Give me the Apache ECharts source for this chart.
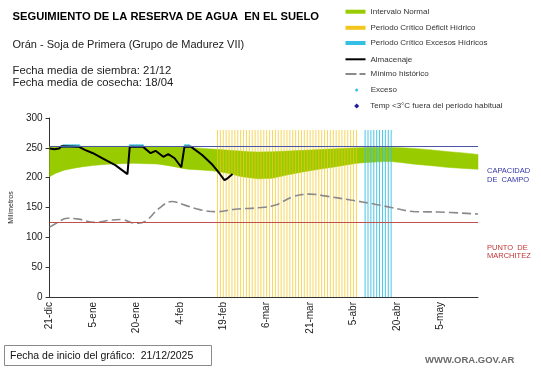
<!DOCTYPE html>
<html><head><meta charset="utf-8">
<script src="https://cdn.jsdelivr.net/npm/echarts@6/dist/echarts.min.js"></script>
<style>html,body{margin:0;padding:0;background:#fff}#c{width:541px;height:368px}</style>
</head><body><div id="c"></div>
<script>
// x positions are days since 21-dic
const tickLabels = ['21-dic','5-ene','20-ene','4-feb','19-feb','6-mar','21-mar','5-abr','20-abr','5-may'];
const bandDays  = [0,2,5,8,11,15,20,25,29,33,37,40,43,46,48,52,56,59,62,66,69,72,77,82,88,93,99,106,110,114,118,122,126,132,138,143,148];
const bandLower = [201.5,207,212.5,215.5,218,220.5,222.5,223.5,224,223.5,223,221,218.5,215.5,214,213,211.5,209.5,207,202,200,198,199,204.5,210,214,218.5,224,225.5,226.5,227,225,222.5,220,217,215.5,214];
const bandUpper = [252.5,252.5,252.5,252.5,252.5,252.5,252.5,252.5,252.5,252.5,252.5,252.5,252,251.5,251,249.5,248,247,246,244.5,243.5,243,243.5,244.5,246,247,248.5,250,250.5,250.5,250.5,250,249,246.5,243.5,241.5,239];
const almDays   = [0,1.7,3.3,4.1,10,10.5,12.2,15,18.3,22.7,26.9,27.7,32.2,32.7,34.9,36.6,39.3,41,43.2,45.5,46.6,48.8,49.3,52.7,56,58.7,60.4,61.5,63.2];
const almValues = [249,247.5,249,252.5,252,251,246.5,241,232.5,221,206,252,252,251,241,245,235,239.5,232.5,217.5,252,252,251,238,223,207,196,199,206];
const minDays   = [0,2.3,6.2,10,15.6,21.2,25,27.8,30.6,33.4,37.8,42.2,46.7,52.2,57.8,64,73,78,84,90,95,104,112,117.5,126.5,134,148];
const minValues = [117,123.5,132,130.5,125,129,130,125.5,123.5,128,148.5,160,154,146,143,147,150,154,168,172.5,169.5,162.5,156,150.5,143,142.5,139];
const deficitDays = [58,59,60,61,62,63,64,65,66,67,68,69,70,71,72,73,74,75,76,77,78,79,80,81,82,83,84,85,86,87,88,89,90,91,92,93,94,95,96,97,98,99,100,101,102,103,104,105,106];
const excessPeriodDays = [109,110,111,112,113,114,115,116,117,118];
const criticalTop = 280;
const excesoDays = [5,6,7,8,9,10,28,29,30,31,32,47,48];
const excesoValue = 253;
const tempDays = [];
const capacidadCampo = 253;
const puntoMarchitez = 125;

const GREEN = '#99cc00', YELLOW = '#f2c61c', CYAN = '#33c0e4';
const FONT = 'Liberation Sans, Arial, sans-serif';

const chart = echarts.init(document.getElementById('c'), null, {renderer: 'canvas'});

const legendSpec = [
  {name: 'Intervalo Normal', icon: 'rect', w: 20, h: 4, cy: 11.7, left: 345.5, pad: 0},
  {name: 'Periodo Crítico Déficit Hídrico', icon: 'rect', w: 20, h: 4, cy: 27.8, left: 345.5, pad: 0},
  {name: 'Periodo Crítico Excesos Hídricos', icon: 'rect', w: 20, h: 4, cy: 43, left: 345.5, pad: 0},
  {name: 'Almacenaje', icon: 'rect', w: 20, h: 2, cy: 59.3, left: 345.5, pad: 0},
  {name: 'Mínimo histórico', icon: 'path://M0,0h11v2h-11z M14,0h6v2h-6z', w: 20, h: 2, cy: 74, left: 345.5, pad: 0},
  {name: 'Exceso', icon: 'circle', w: 3, h: 3, cy: 90, left: 355.2, pad: 7.5},
  {name: 'Temp <3°C fuera del periodo habitual', icon: 'diamond', w: 5, h: 5, cy: 106, left: 354.2, pad: 6}
];

function bandRender(params, api) {
  if (params.dataIndex !== 0) return null;
  const pts = [];
  for (let i = 0; i < bandDays.length; i++) pts.push(api.coord([bandDays[i], bandUpper[i]]));
  for (let i = bandDays.length - 1; i >= 0; i--) pts.push(api.coord([bandDays[i], bandLower[i]]));
  return {type: 'polygon', shape: {points: pts, smooth: 0}, style: {fill: GREEN, stroke: GREEN, lineWidth: 0.5}};
}

function txt(text, x, y, font, fill) {
  return {type: 'text', x: x, y: y, silent: true,
    style: {text: text, font: font, fill: fill, verticalAlign: 'top', align: 'left'}};
}

const option = {
  animation: false,
  grid: {left: 33, right: 63, top: 118, bottom: 71, containLabel: false},
  legend: legendSpec.map(s => ({
    left: s.left, top: s.cy - 5, padding: 0, selectedMode: false,
    itemWidth: s.w, itemHeight: s.h,
    data: [{name: s.name, icon: s.icon, itemStyle: {opacity: 1}}],
    textStyle: {fontSize: 8, color: '#333', lineHeight: 10, fontFamily: FONT, padding: [0, 0, 0, s.pad]}
  })),
  xAxis: {
    type: 'value', min: 0, max: 148, interval: 15,
    splitLine: {show: false},
    axisLine: {lineStyle: {color: '#333', width: 1}},
    axisTick: {show: false},
    axisLabel: {
      rotate: 90, fontSize: 10, color: '#222', margin: 5, fontFamily: FONT,
      showMaxLabel: false,
      formatter: v => (v % 15 === 0 && tickLabels[v / 15] !== undefined) ? tickLabels[v / 15] : ''
    }
  },
  yAxis: {
    type: 'value', min: 0, max: 300, interval: 50,
    name: 'Milímetros', nameLocation: 'middle', nameRotate: 90, nameGap: 25,
    nameTextStyle: {fontSize: 7, color: '#222', fontFamily: FONT},
    splitLine: {show: false},
    axisLine: {show: true, lineStyle: {color: '#333', width: 1}},
    axisTick: {show: true, length: 4, lineStyle: {color: '#333'}},
    axisLabel: {fontSize: 10, color: '#222', margin: 7, fontFamily: FONT}
  },
  series: [
    {type: 'custom', name: 'Intervalo Normal', coordinateSystem: 'cartesian2d',
     itemStyle: {color: GREEN}, renderItem: bandRender, silent: true,
     encode: {x: 0, y: [1, 2]},
     data: bandDays.map((d, i) => [d, bandLower[i], bandUpper[i]])},
    {type: 'bar', name: 'Periodo Crítico Déficit Hídrico', barWidth: 1, barGap: '-100%',
     itemStyle: {color: YELLOW, opacity: 0.72}, data: deficitDays.map(d => [d, criticalTop])},
    {type: 'bar', name: 'Periodo Crítico Excesos Hídricos', barWidth: 1, barGap: '-100%',
     itemStyle: {color: CYAN, opacity: 0.9}, data: excessPeriodDays.map(d => [d, criticalTop])},
    {type: 'line', name: 'limits', data: [], symbol: 'none',
     markLine: {symbol: 'none', silent: true, label: {show: false}, animation: false,
       data: [
         {yAxis: capacidadCampo, lineStyle: {color: '#4a55a8', width: 1, type: 'solid'}},
         {yAxis: puntoMarchitez, lineStyle: {color: '#c0504d', width: 1, type: 'solid'}}
       ]}},
    {type: 'line', name: 'Mínimo histórico', symbol: 'none', smooth: 0.4,
     itemStyle: {color: '#8a8a8a'}, lineStyle: {color: '#8a8a8a', width: 1.6, type: [9, 4]},
     data: minDays.map((d, i) => [d, minValues[i]])},
    {type: 'line', name: 'Almacenaje', symbol: 'none',
     itemStyle: {color: '#000'}, lineStyle: {color: '#000', width: 2},
     data: almDays.map((d, i) => [d, almValues[i]])},
    {type: 'scatter', name: 'Exceso', symbol: 'circle', symbolSize: 4,
     itemStyle: {color: CYAN}, data: excesoDays.map(d => [d, excesoValue])},
    {type: 'scatter', name: 'Temp <3°C fuera del periodo habitual', symbol: 'diamond', symbolSize: 5,
     itemStyle: {color: '#1c1c9c'}, data: tempDays.map(d => [d, 0])}
  ],
  graphic: [
    txt('SEGUIMIENTO DE LA RESERVA DE AGUA  EN EL SUELO', 12.5, 11, 'bold 11.2px ' + FONT, '#000'),
    txt('Orán - Soja de Primera (Grupo de Madurez VII)', 12.5, 39.5, '11px ' + FONT, '#222'),
    txt('Fecha media de siembra: 21/12', 12.5, 65.5, '11.3px ' + FONT, '#222'),
    txt('Fecha media de cosecha: 18/04', 12.5, 77, '11.3px ' + FONT, '#222'),
    txt('CAPACIDAD', 487, 167, '7.5px ' + FONT, '#3535a8'),
    txt('DE  CAMPO', 487, 175.5, '7.5px ' + FONT, '#3535a8'),
    txt('PUNTO  DE', 487, 243.5, '7.5px ' + FONT, '#c03535'),
    txt('MARCHITEZ', 487, 252, '7.5px ' + FONT, '#c03535'),
    {type: 'rect', shape: {x: 4.5, y: 345.5, width: 207, height: 20}, style: {fill: '#fff', stroke: '#8a8a8a', lineWidth: 1}},
    txt('Fecha de inicio del gráfico:  21/12/2025', 10, 350.5, '10.5px ' + FONT, '#111'),
    txt('WWW.ORA.GOV.AR', 425, 355, 'bold 9.5px ' + FONT, '#6a6a6a')
  ]
};
chart.setOption(option);
</script>
</body></html>
